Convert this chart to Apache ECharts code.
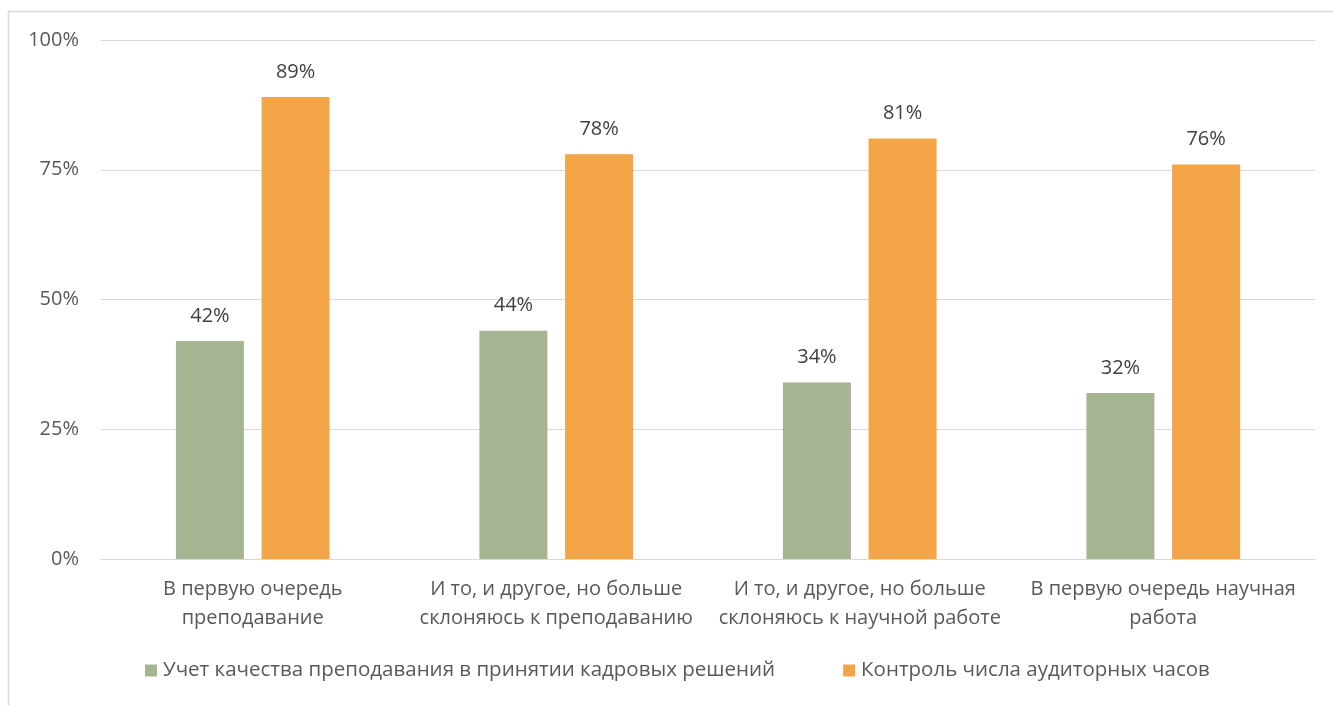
<!DOCTYPE html>
<html>
<head>
<meta charset="utf-8">
<script src="https://cdn.jsdelivr.net/npm/echarts@6/dist/echarts.min.js"></script>
<style>
  html, body { margin: 0; padding: 0; background: #fff; }
  #chart { width: 1333px; height: 705px; }
</style>
</head>
<body>
<div id="chart"></div>
<script>
// Answer categories (two-line labels)
const categories = [
  'В первую очередь\nпреподавание',
  'И то, и другое, но больше\nсклоняюсь к преподаванию',
  'И то, и другое, но больше\nсклоняюсь к научной работе',
  'В первую очередь научная\nработа'
];
const seriesNames = [
  'Учет качества преподавания в принятии кадровых решений',
  'Контроль числа аудиторных часов'
];
const qualityValues = [42, 44, 34, 32];
const hoursValues = [89, 78, 81, 76];
const yTicks = [0, 25, 50, 75, 100];

const textColor = '#595959';
const fontFamily = 'Open Sans, Noto Sans, sans-serif';
const fontSize = 20;

const chart = echarts.init(document.getElementById('chart'), null, { renderer: 'canvas' });
chart.setOption({
  animation: false,
  backgroundColor: '#fff',
  graphic: [{
    type: 'rect',
    shape: { x: 8.5, y: 11.5, width: 1340, height: 720 },
    style: { fill: 'none', stroke: '#d9d9d9', lineWidth: 1.5 },
    silent: true
  }],
  grid: { left: 101, right: 18, top: 40, bottom: 146 },
  legend: {
    bottom: 19,
    left: 140,
    itemWidth: 12,
    itemHeight: 12,
    itemGap: 68,
    icon: 'rect',
    textStyle: { color: textColor, fontSize: 20.5, fontFamily: fontFamily, padding: [0, 0, 0, 1] },
    data: seriesNames
  },
  xAxis: {
    type: 'category',
    data: categories,
    axisLine: { show: true, lineStyle: { color: '#d9d9d9', width: 1 } },
    axisTick: { show: false },
    axisLabel: {
      color: textColor, fontSize: fontSize, fontFamily: fontFamily,
      lineHeight: 29, margin: 16, interval: 0
    }
  },
  yAxis: {
    type: 'value',
    min: yTicks[0],
    max: yTicks[yTicks.length - 1],
    interval: 25,
    axisLine: { show: false },
    axisTick: { show: false },
    splitLine: { lineStyle: { color: '#d9d9d9', width: 1 } },
    axisLabel: {
      color: textColor, fontSize: fontSize, fontFamily: fontFamily, margin: 22,
      formatter: v => v + '%'
    }
  },
  series: [
    {
      name: seriesNames[0],
      type: 'bar',
      data: qualityValues,
      barWidth: 68,
      barGap: '26%',
      itemStyle: { color: '#a5b592' },
      label: {
        show: true, position: 'top', distance: 15,
        color: '#404040', fontSize: fontSize, fontFamily: fontFamily,
        formatter: p => p.value + '%'
      }
    },
    {
      name: seriesNames[1],
      type: 'bar',
      data: hoursValues,
      barWidth: 68,
      barGap: '26%',
      itemStyle: { color: '#f4a547' },
      label: {
        show: true, position: 'top', distance: 15,
        color: '#404040', fontSize: fontSize, fontFamily: fontFamily,
        formatter: p => p.value + '%'
      }
    }
  ]
});
</script>
</body>
</html>
